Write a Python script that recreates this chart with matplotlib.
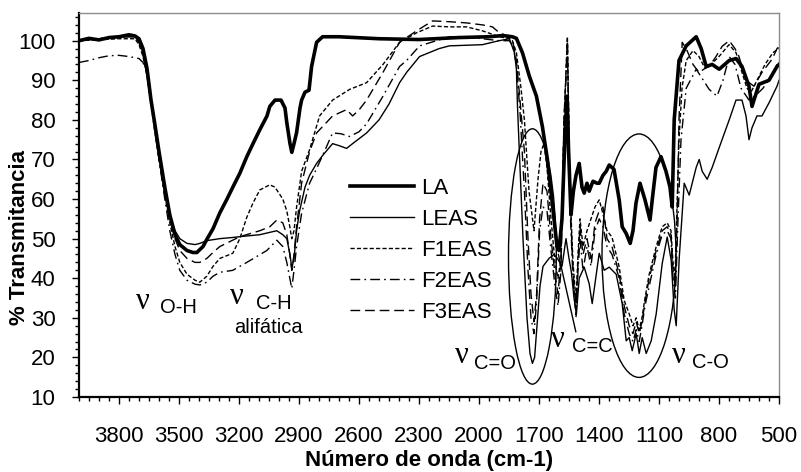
import matplotlib
matplotlib.use("Agg")
import matplotlib.pyplot as plt
from matplotlib.patches import Ellipse
from matplotlib.ticker import FixedLocator, MultipleLocator

plt.rcParams['font.family'] = ['Liberation Sans', 'DejaVu Sans']

# wavenumbers (cm-1) and transmittance (%)
la_wn = [4000, 3950, 3900, 3850, 3800, 3750, 3720, 3700, 3680, 3660, 3640, 3621, 3600, 3571, 3546,
         3520, 3496, 3460, 3430, 3411, 3380, 3361, 3330, 3296, 3260, 3231, 3196, 3161, 3130, 3096,
         3060, 3046, 3020, 2990, 2970, 2961, 2945, 2936, 2925, 2912, 2895, 2887, 2870, 2850, 2837,
         2812, 2782, 2700, 2500, 2300, 2100, 1950, 1880, 1833, 1813, 1783, 1748, 1713, 1683, 1658,
         1640, 1625, 1610, 1600, 1585, 1570, 1560, 1552, 1540, 1528, 1515, 1499, 1485, 1474, 1460,
         1449, 1430, 1410, 1399, 1380, 1364, 1349, 1325, 1299, 1284, 1264, 1244, 1230, 1215, 1195,
         1170, 1145, 1130, 1115, 1090, 1065, 1045, 1034, 1024, 1000, 964, 914, 889, 864, 834, 799,
         749, 715, 685, 650, 635, 600, 550, 510, 500]
la_t = [100, 100.6, 100.2, 100.8, 101, 101.5, 101.2, 100.5, 98, 93, 85, 79, 72, 63, 56,
        51, 48.5, 47, 46.5, 46.5, 48, 49.8, 52.5, 56.5, 60, 63, 66.5, 70.7, 74, 77.5,
        81, 83.4, 85, 85, 83, 79.3, 74, 71.8, 74, 76.8, 83, 85, 87, 87.5, 93.5,
        99.6, 101, 101, 100.5, 100.3, 100.8, 101, 101.3, 101, 100.6, 97, 91, 86, 78.3, 70,
        62, 55, 48, 47, 55, 76, 86, 72, 56, 62, 66, 69, 63, 61.5, 64,
        62, 64.5, 64, 64, 66, 67, 68.6, 67.5, 59.8, 53, 51.3, 48.8, 52, 59, 64,
        59.8, 54.7, 61.5, 68, 70.7, 67, 63, 58, 80, 95, 98.7, 101, 98, 93.5, 94, 92.8,
        95, 95.5, 93.5, 88.5, 83.4, 89, 90, 93.5, 94]

leas_wn = [4000, 3900, 3800, 3720, 3700, 3680, 3660, 3640, 3620, 3600, 3571, 3546, 3520, 3496, 3460,
           3420, 3396, 3361, 3296, 3231, 3196, 3096, 3011, 2981, 2961, 2945, 2936, 2925, 2912, 2897,
           2870, 2847, 2812, 2782, 2732, 2700, 2662, 2632, 2562, 2500, 2450, 2397, 2362, 2297, 2200,
           2148, 1983, 1900, 1848, 1823, 1813, 1808, 1798, 1780, 1760, 1745, 1733, 1722, 1710, 1695,
           1680, 1650, 1625, 1608, 1585, 1565, 1550, 1538, 1525, 1513, 1499, 1474, 1449, 1434, 1399,
           1374, 1349, 1314, 1284, 1264, 1249, 1234, 1214, 1199, 1184, 1164, 1139, 1114, 1084, 1059,
           1039, 1024, 1014, 999, 974, 949, 914, 899, 884, 859, 834, 799, 749, 715, 685,
           665, 650, 635, 610, 585, 550, 510, 500]
leas_t = [100, 100.5, 101, 101, 100, 97, 92, 85, 78, 71, 62, 56, 52, 50, 48.8,
          48.5, 48.8, 49.5, 50, 50.3, 50.5, 51, 52, 51, 50, 46, 42.5, 45, 52, 57,
          63, 66, 69, 71, 74, 73.5, 72.8, 74, 76.7, 80, 84, 89.4, 92, 96, 98,
          98.7, 99, 100, 100.5, 97, 92.8, 84, 71.6, 50, 30, 21, 18.5, 20, 28, 38,
          43, 45, 46, 45, 43, 50, 45, 41.5, 35, 31, 40, 42.8, 38.6, 33.6, 46.3,
          42, 42.8, 41, 33.6, 24.2, 25, 21.7, 26, 21, 25, 21, 24.2, 31, 43.7, 50.4,
          44.5, 32, 28, 45, 64, 61, 68, 70, 67, 65, 68, 73, 80, 85, 85,
          81, 75, 78, 81, 81, 84.3, 88.5, 90]

f1_wn = [4000, 3800, 3720, 3700, 3680, 3660, 3640, 3621, 3600, 3571, 3546, 3520, 3496, 3460, 3420,
         3396, 3361, 3330, 3296, 3231, 3196, 3161, 3130, 3096, 3046, 3020, 2981, 2961, 2946, 2936,
         2925, 2912, 2887, 2847, 2797, 2732, 2647, 2562, 2480, 2397, 2312, 2232, 2148, 2063, 1983,
         1898, 1848, 1833, 1813, 1790, 1773, 1750, 1725, 1705, 1690, 1675, 1660, 1640, 1620, 1605,
         1590, 1575, 1558, 1545, 1530, 1515, 1505, 1495, 1480, 1460, 1440, 1420, 1399, 1384, 1360,
         1335, 1299, 1274, 1249, 1230, 1214, 1199, 1185, 1170, 1149, 1114, 1084, 1059, 1040, 1030,
         1020, 1010, 1000, 985, 964, 930, 900, 870, 840, 800, 750, 715, 685, 660, 640,
         610, 570, 530, 500]
f1_t = [100, 100.5, 100.5, 99, 96, 91, 84, 77, 70, 61, 54, 48, 44, 41, 39.5,
        39, 40.5, 43, 45, 46.3, 50, 55.4, 59, 62.3, 63.6, 63, 60, 57, 53, 50,
        52, 58, 67, 72.5, 81, 85, 87.7, 89.4, 94, 99.6, 102, 103.7, 103.5, 103.5, 102.5,
        101, 100.5, 100, 97, 88, 80, 62, 52, 65, 72, 74, 68, 55, 44, 40,
        45, 80, 101, 62, 44, 34, 46, 55, 48, 52, 55, 58, 59.8, 57, 52,
        50.4, 42.8, 34.4, 31, 28, 30, 27, 30, 35, 41, 48, 53, 54, 52, 44,
        40, 58, 75, 88, 95, 97.5, 96, 93, 94, 96, 99, 97, 92, 88, 87,
        90, 94, 97, 98]

f2_wn = [4000, 3950, 3900, 3850, 3800, 3750, 3700, 3680, 3660, 3640, 3621, 3600, 3571, 3546, 3520,
         3496, 3460, 3420, 3396, 3361, 3330, 3296, 3231, 3161, 3061, 3011, 2981, 2961, 2946, 2936,
         2925, 2912, 2887, 2847, 2812, 2782, 2732, 2690, 2647, 2600, 2562, 2480, 2397, 2362, 2297,
         2148, 2063, 1983, 1898, 1848, 1830, 1813, 1795, 1773, 1755, 1740, 1725, 1712, 1697, 1680,
         1660, 1640, 1620, 1605, 1590, 1575, 1558, 1545, 1530, 1515, 1505, 1495, 1480, 1460, 1440,
         1420, 1399, 1380, 1360, 1335, 1299, 1274, 1249, 1230, 1214, 1199, 1185, 1170, 1149, 1114,
         1084, 1059, 1040, 1030, 1018, 1005, 990, 964, 914, 849, 810, 780, 749, 720, 690,
         650, 620, 580, 540, 510, 500]
f2_t = [94.5, 95, 95.7, 96.2, 96.3, 96, 95.5, 94.5, 92, 85, 78, 70, 60, 52, 46,
        42, 39.5, 38.5, 38.3, 39, 40.5, 41.5, 42, 44, 47, 49.6, 48, 44, 40, 37.4,
        42, 48, 56.4, 64, 67.7, 71, 76.7, 76.5, 75.8, 77, 79, 86, 93.5, 95, 98.7,
        101, 101, 100.5, 100, 100, 98.5, 94, 82, 62, 42, 30, 26, 34, 52, 58,
        57, 47, 38, 33, 42, 78, 99, 58, 40, 30, 42, 50, 42, 48, 43,
        52, 55, 53, 48, 46, 40, 31, 26, 24, 27, 24, 28, 33, 38, 46,
        51, 52, 50, 40, 35, 55, 75, 88, 92.8, 87.7, 86, 90, 96, 94, 88,
        85, 86, 88, 91, 94, 95]

f3_wn = [4000, 3800, 3720, 3700, 3680, 3660, 3640, 3621, 3600, 3571, 3546, 3520, 3496, 3460, 3420,
         3396, 3361, 3330, 3296, 3196, 3096, 3046, 3011, 2981, 2961, 2946, 2936, 2925, 2912, 2887,
         2847, 2812, 2732, 2662, 2632, 2600, 2562, 2480, 2397, 2312, 2232, 2148, 2063, 1983, 1933,
         1898, 1848, 1830, 1813, 1795, 1773, 1755, 1740, 1725, 1712, 1697, 1680, 1660, 1640, 1620,
         1605, 1590, 1575, 1558, 1545, 1530, 1515, 1505, 1495, 1480, 1460, 1440, 1420, 1399, 1380,
         1360, 1335, 1299, 1274, 1249, 1230, 1214, 1199, 1185, 1170, 1149, 1114, 1084, 1059, 1040,
         1030, 1018, 1008, 1000, 984, 964, 930, 900, 870, 849, 815, 784, 749, 720, 700,
         665, 625, 585, 535, 510, 500]
f3_t = [100, 101, 101, 99.5, 96.5, 91.5, 84.5, 77.5, 70.5, 61.5, 55, 50, 47, 45, 44,
        44, 45, 46.5, 48, 50.5, 52, 53, 54.7, 54, 51, 46, 42, 46, 53, 64,
        72, 76.7, 81, 82.6, 81, 82.5, 85, 92, 99.6, 102.5, 105, 104.8, 104.5, 104, 103.5,
        102, 101, 99.5, 95, 85, 72, 50, 36, 29, 36, 55, 64, 62, 50, 41,
        36, 45, 80, 100, 60, 42, 32, 44, 53, 46, 50, 45, 54, 57, 58,
        50, 48, 41, 33, 28, 26, 29, 26, 29, 34, 40, 47, 52, 53, 51,
        42, 38, 58, 80, 99.6, 98, 94, 92, 93, 93.5, 96, 98.6, 100, 98, 96,
        90, 88.5, 92, 95.3, 98, 98.5]

series_names = ["LA", "LEAS", "F1EAS", "F2EAS", "F3EAS"]
x_major = [3800, 3500, 3200, 2900, 2600, 2300, 2000, 1700, 1400, 1100, 800, 500]

fig = plt.figure(figsize=(8.01, 4.72), dpi=100)
ax = fig.add_axes([79/801, 1 - 397/472, 700/801, 384/472])

ax.plot(la_wn, la_t, color="black", lw=2.6, label=series_names[0], zorder=5)
ax.plot(leas_wn, leas_t, color="black", lw=1.0, label=series_names[1])
ax.plot(f1_wn, f1_t, color="black", lw=1.0, dashes=(3, 1.6), label=series_names[2])
ax.plot(f2_wn, f2_t, color="black", lw=1.0, dashes=(7, 3, 1.2, 3), label=series_names[3])
ax.plot(f3_wn, f3_t, color="black", lw=1.0, dashes=(7, 3.5), label=series_names[4])

# band ellipses and pointer
ax.add_patch(Ellipse((1733, 45.5), 239, 64.5, fill=False, color="black", lw=1.0))
ax.add_patch(Ellipse((1200, 45.7), 370, 61.5, fill=False, color="black", lw=1.0))
ax.plot([1603, 1516], [46, 26.5], color="black", lw=1.0)

nu_kw = dict(family="Liberation Serif", fontsize=22, ha="center", va="center")
sub_kw = dict(fontsize=14.5, ha="left", va="center")
ax.text(3680, 34.2, "ν", **nu_kw)
ax.text(3596, 32.6, "O-H", **sub_kw)
ax.text(3211, 35.3, "ν", **nu_kw)
ax.text(3116, 33.6, "C-H", **sub_kw)
ax.text(3051, 27.5, "alifática", fontsize=14.5, ha="center", va="center")
ax.text(2088, 20.6, "ν", **nu_kw)
ax.text(2023, 18.4, "C=O", **sub_kw)
ax.text(1608, 24.4, "ν", **nu_kw)
ax.text(1533, 22.7, "C=C", **sub_kw)
ax.text(999, 20.6, "ν", **nu_kw)
ax.text(934, 18.6, "C-O", **sub_kw)

ax.set_xlim(4000, 500)
ax.set_ylim(10, 107)
ax.xaxis.set_major_locator(FixedLocator(x_major))
ax.xaxis.set_minor_locator(MultipleLocator(50))
ax.yaxis.set_major_locator(MultipleLocator(10))
ax.yaxis.set_minor_locator(MultipleLocator(2))
ax.set_yticks([10, 20, 30, 40, 50, 60, 70, 80, 90, 100])
ax.tick_params(axis="x", which="major", direction="out", length=5, width=1, pad=16, labelsize=16)
ax.tick_params(axis="y", which="major", direction="out", length=5, width=1, pad=12, labelsize=16)
ax.tick_params(which="minor", direction="out", length=3, width=1)

for side in ["top", "right"]:
    ax.spines[side].set_color("#8c8c8c")
    ax.spines[side].set_linewidth(1.0)
for side in ["left", "bottom"]:
    ax.spines[side].set_color("black")
    ax.spines[side].set_linewidth(1.6)

ax.set_xlabel("Número de onda (cm-1)", fontsize=16, fontweight="bold", va="top")
ax.xaxis.set_label_coords(0.5, -0.138)
ax.set_ylabel("% Transmitancia", fontsize=16, fontweight="bold")
ax.yaxis.set_label_coords(-0.07, 0.415)

ax.legend(loc="upper left", bbox_to_anchor=(350/801, 1 - 178/472), bbox_transform=fig.transFigure,
          frameon=False, fontsize=16, handlelength=2.9, handletextpad=0.3, labelspacing=0.45,
          borderpad=0, borderaxespad=0)

fig.savefig("out.png", dpi=100)
